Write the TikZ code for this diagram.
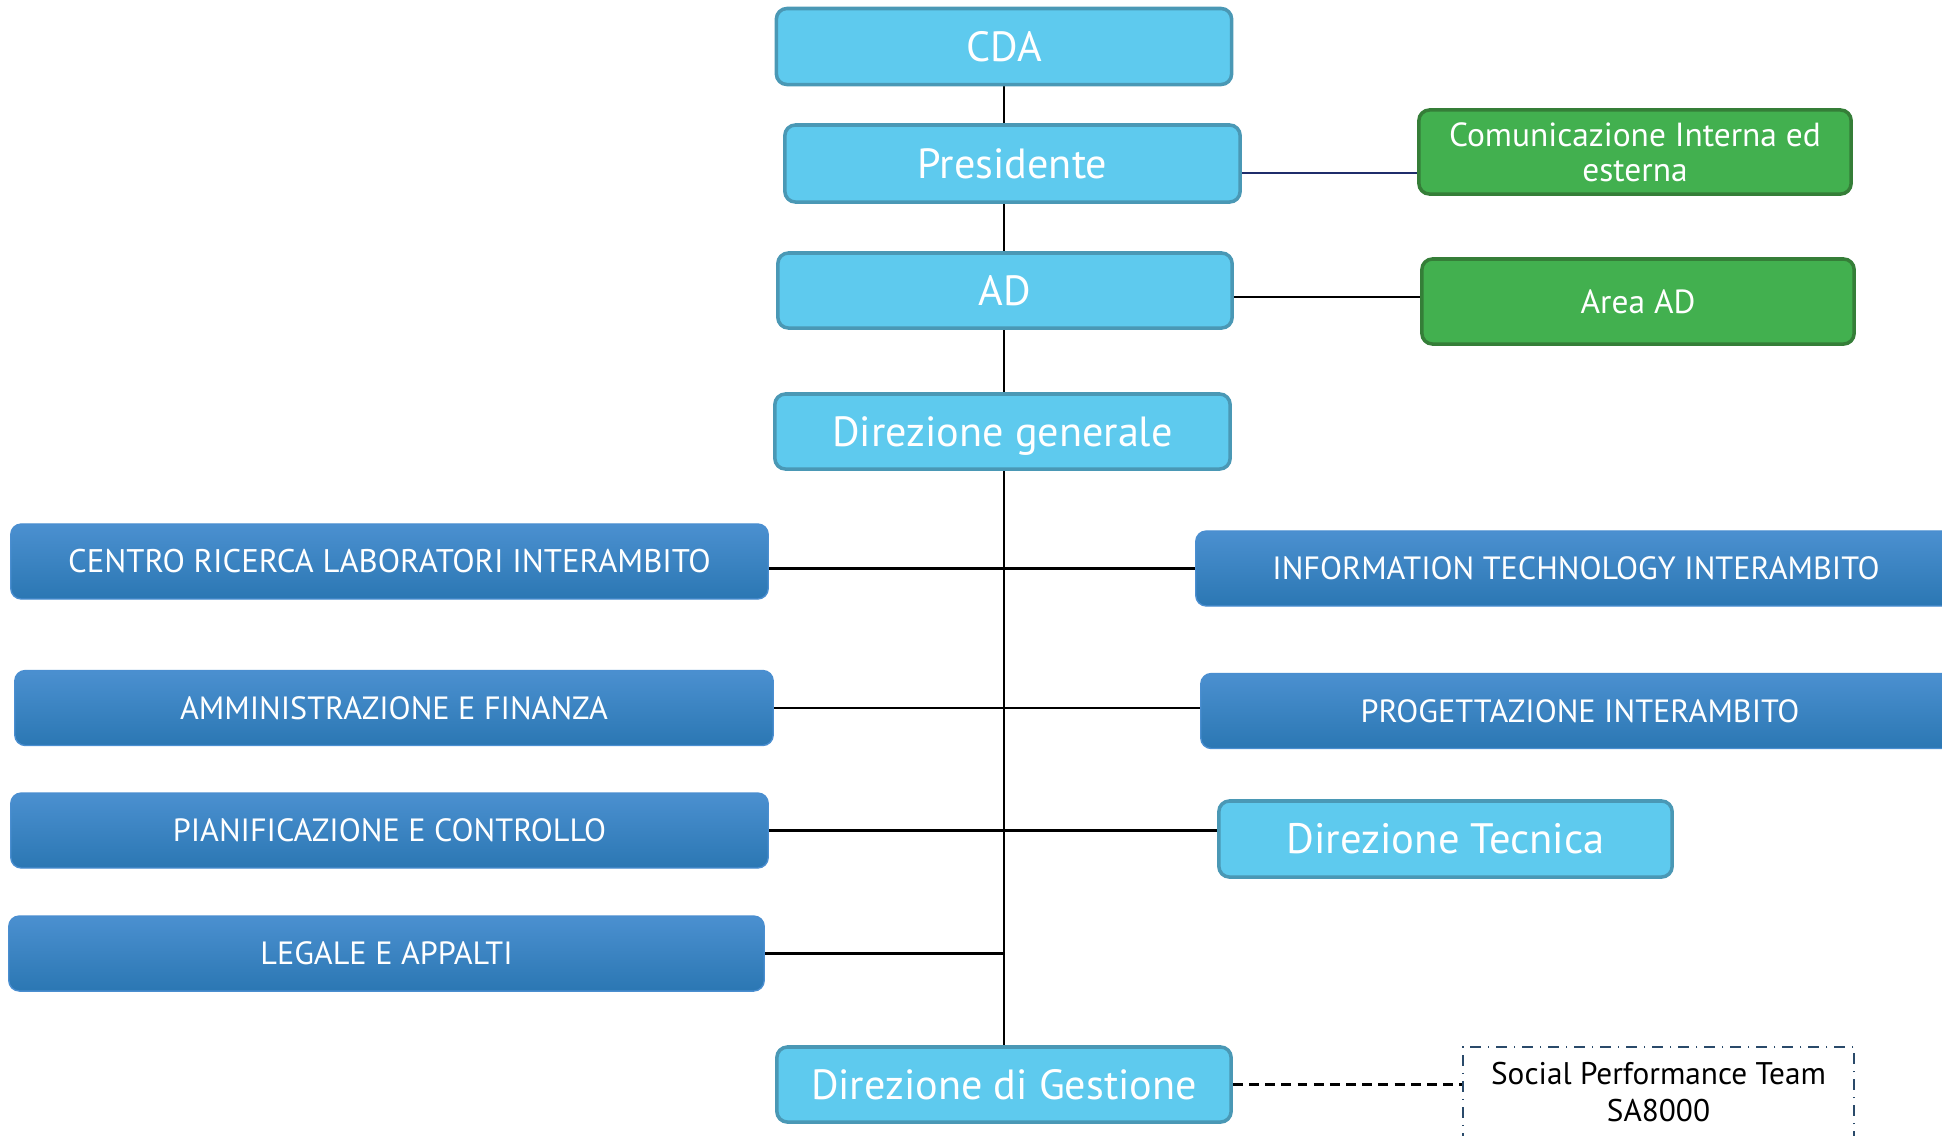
\documentclass[tikz,border=0pt]{standalone}
\usepackage{fontspec}
\setmainfont{PT Sans}
\usetikzlibrary{calc,backgrounds}
\definecolor{lbfill}{HTML}{5ECAEE}
\definecolor{lbdraw}{HTML}{4A98B5}
\definecolor{grfill}{HTML}{42B04F}
\definecolor{grdraw}{HTML}{357E38}
\definecolor{bltop}{HTML}{4B90D0}
\definecolor{blbot}{HTML}{2B77B3}
\definecolor{bldraw}{HTML}{4A8ED0}
\definecolor{navy}{HTML}{1F2D6B}
\definecolor{spdraw}{HTML}{2A4A6A}
\tikzset{
  lbbox/.style={draw=lbdraw, fill=lbfill, line width=1pt, rounded corners=3pt,
    text=white, inner sep=0pt, align=center},
  grbox/.style={draw=grdraw, fill=grfill, line width=1pt, rounded corners=3pt,
    text=white, inner sep=0pt, align=center, font=\fontsize{9.5}{11}\selectfont,
    minimum width=4.32cm},
  blbox/.style={draw=bldraw, top color=bltop, bottom color=blbot, line width=0.4pt,
    rounded corners=3pt, text=white, inner sep=0pt, minimum height=0.75cm,
    font=\fontsize{9.15}{10}\selectfont},
  conn/.style={line width=0.6pt, black},
  spbox/.style={draw=spdraw, dash dot, line width=0.45pt, inner sep=0pt},
}
\begin{document}
\begin{tikzpicture}[x=0.01cm, y=-0.01cm]
\useasboundingbox (0,0) rectangle (1942,1135);
% light blue
\node[lbbox, minimum width=4.55cm, minimum height=0.76cm, font=\fontsize{12}{14}\selectfont] (cda) at (1004,46.5) {CDA};
\node[lbbox, minimum width=4.55cm, minimum height=0.77cm, font=\fontsize{12}{14}\selectfont] (pres) at (1012.5,163.5) {Presidente};
\node[lbbox, minimum width=4.54cm, minimum height=0.75cm, font=\fontsize{12}{14}\selectfont] (ad) at (1005,290.5) {AD};
\node[lbbox, minimum width=4.55cm, minimum height=0.75cm, font=\fontsize{12}{14}\selectfont] (dgen) at (1002.5,431.5) {\raisebox{0pt}[\height][0pt]{Direzione generale}};
\node[lbbox, minimum width=4.53cm, minimum height=0.76cm, font=\fontsize{12.1}{14}\selectfont] (dtec) at (1445.5,839) {Direzione Tecnica};
\node[lbbox, minimum width=4.54cm, minimum height=0.75cm, font=\fontsize{12}{14}\selectfont] (dges) at (1004,1084.5) {Direzione di Gestione};
% green
\node[grbox, minimum height=0.84cm] (com) at (1635,152) {Comunicazione Interna ed\\[-1pt]esterna};
\node[grbox, minimum height=0.85cm] (area) at (1638,301.5) {Area AD};
% dark blue
\node[blbox, minimum width=7.57cm, font=\fontsize{9.3}{10}\selectfont] (centro) at (389.5,561.5) {CENTRO RICERCA LABORATORI INTERAMBITO};
\node[blbox, minimum width=7.60cm] (it) at (1576,568.5) {INFORMATION TECHNOLOGY INTERAMBITO};
\node[blbox, minimum width=7.58cm] (amm) at (394,708) {AMMINISTRAZIONE E FINANZA};
\node[blbox, minimum width=7.58cm] (prog) at (1580,711) {PROGETTAZIONE INTERAMBITO};
\node[blbox, minimum width=7.57cm] (pian) at (389.5,830.5) {PIANIFICAZIONE E CONTROLLO};
\node[blbox, minimum width=7.55cm] (leg) at (386.5,953.5) {LEGALE E APPALTI};
% social performance
\node[spbox, minimum width=3.91cm, minimum height=1.2cm] (sp) at (1658.5,1107) {};
\node[font=\fontsize{8.9}{10.6}\selectfont, align=center, inner sep=0pt] (spt) at (1658.5,1092) {Social Performance Team\\SA8000};
\begin{pgfonlayer}{background}
\draw[conn] (cda.south) -- (dges.north);
\draw[conn] (centro.east |- it.west) -- (it.west);
\draw[conn] (amm.east) -- (amm.east -| prog.west);
\draw[conn] (pian.east) -- (pian.east -| dtec.west);
\draw[conn] (leg.east) -- (leg.east -| dges.north);
\draw[line width=0.6pt, draw=navy] ($(pres.east)+(0,9.5)$) -- ($(com.west)+(0,21)$);
\draw[conn] ($(ad.east)+(-3,6.5)$) -- ($(area.west)+(0,-4.5)$);
\draw[conn, dash pattern=on 2.8pt off 1.8pt] (dges.east) -- (dges.east -| sp.west);
\end{pgfonlayer}
\end{tikzpicture}
\end{document}
